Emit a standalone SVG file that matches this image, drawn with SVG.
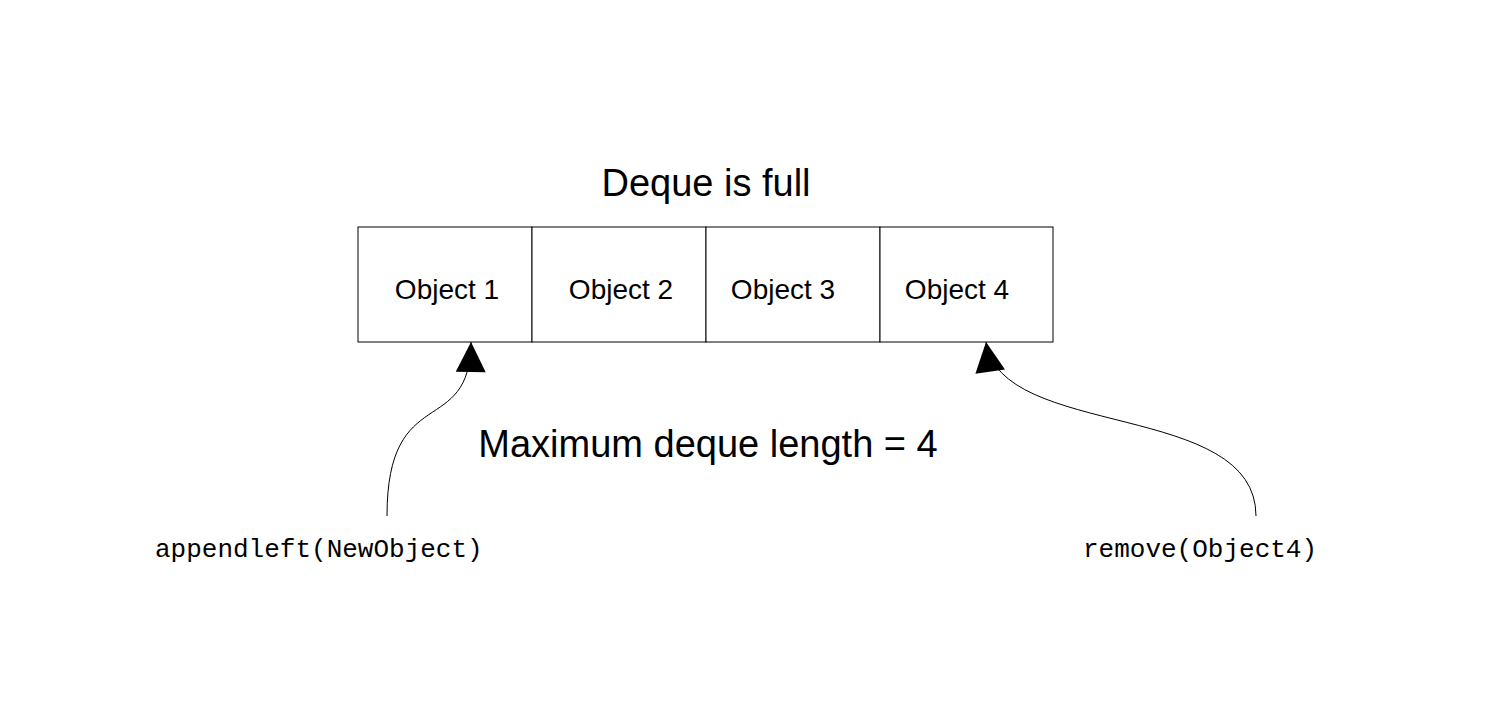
<svg xmlns="http://www.w3.org/2000/svg" width="1510" height="722" viewBox="0 0 1510 722">
<style>
.box{fill:#fff;stroke:#000;stroke-width:1}
.t{font-family:"Liberation Sans",Arial,sans-serif;font-size:28px;fill:#000}
.m{font-family:"Liberation Mono","Courier New",monospace;font-size:26px;fill:#000}
.c{fill:none;stroke:#000;stroke-width:1}
</style>
<defs><marker id="a" viewBox="0 0 10 10" refX="10" refY="5" markerWidth="33" markerHeight="30" markerUnits="userSpaceOnUse" orient="auto"><path d="M0,0L10,5L0,10z" fill="#000"/></marker></defs>
<rect width="1510" height="722" fill="#fff"/>
<text class="t" x="706" y="196" text-anchor="middle" font-size="38" style="font-size:38px">Deque is full</text>
<g id="obj1"><rect class="box" x="358" y="227" width="174" height="115"/><text class="t" x="447" y="299" text-anchor="middle">Object 1</text></g>
<g id="obj2"><rect class="box" x="532" y="227" width="174" height="115"/><text class="t" x="621" y="299" text-anchor="middle">Object 2</text></g>
<g id="obj3"><rect class="box" x="706" y="227" width="174" height="115"/><text class="t" x="783" y="299" text-anchor="middle">Object 3</text></g>
<g id="obj4"><rect class="box" x="880" y="227" width="173" height="115"/><text class="t" x="957" y="299" text-anchor="middle">Object 4</text></g>
<text class="t" x="708" y="457" text-anchor="middle" style="font-size:38px">Maximum deque length = 4</text>
<text class="m" x="155" y="557">appendleft(NewObject)</text>
<text class="m" x="1083" y="557">remove(Object4)</text>
<g id="connectors">
<path class="c" d="M387,516 C387,380 470,440 471,342" marker-end="url(#a)"/>
<path class="c" d="M1256,516 C1256,400 1000,440 986,342" marker-end="url(#a)"/>
</g>
</svg>
